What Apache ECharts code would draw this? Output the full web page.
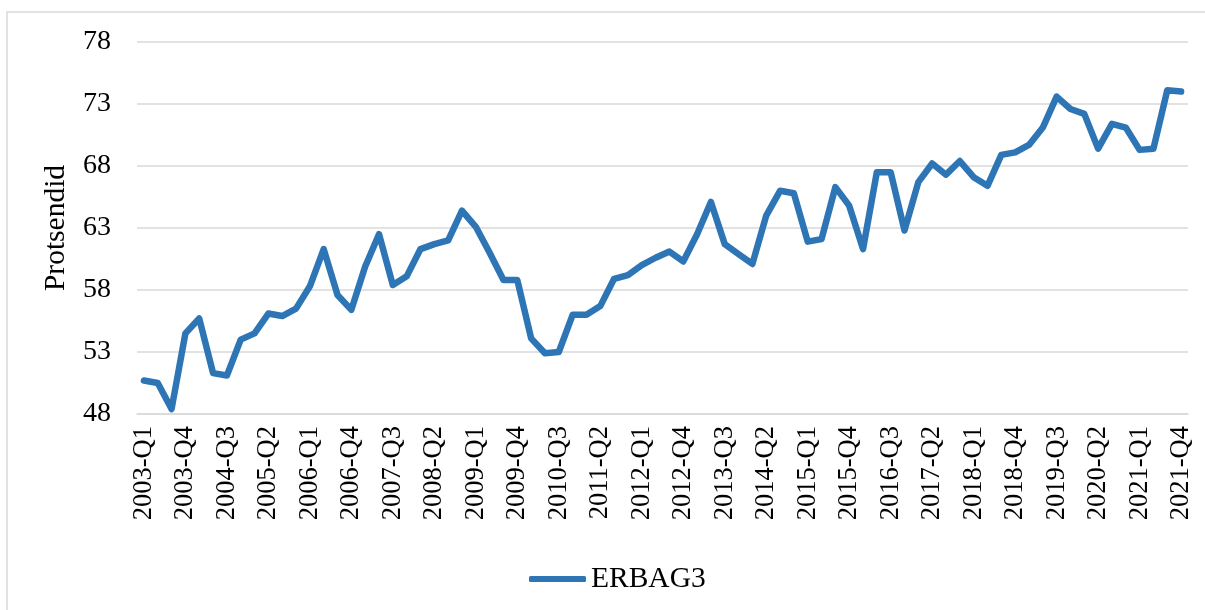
<!DOCTYPE html>
<html>
<head>
<meta charset="utf-8">
<script src="https://cdn.jsdelivr.net/npm/echarts@6/dist/echarts.min.js"></script>
<style>
  html, body { margin: 0; padding: 0; background: #fff; }
  #chart { width: 1205px; height: 610px; }
</style>
</head>
<body>
<div id="chart"></div>
<script>
var years = [];
for (var y = 2003; y <= 2021; y++) years.push(y);
var quarters = [];
years.forEach(function (y) {
  ['Q1', 'Q2', 'Q3', 'Q4'].forEach(function (q) { quarters.push(y + '-' + q); });
});

var seriesName = 'ERBAG3';
var erbag3 = [
  50.7, 50.5, 48.4, 54.5, 55.7, 51.3, 51.1, 54.0,
  54.5, 56.1, 55.9, 56.5, 58.3, 61.3, 57.6, 56.4,
  59.9, 62.5, 58.4, 59.1, 61.3, 61.7, 62.0, 64.4,
  63.1, 61.0, 58.8, 58.8, 54.1, 52.9, 53.0, 56.0,
  56.0, 56.7, 58.9, 59.2, 60.0, 60.6, 61.1, 60.3,
  62.5, 65.1, 61.7, 60.9, 60.1, 64.0, 66.0, 65.8,
  61.9, 62.1, 66.3, 64.8, 61.3, 67.5, 67.5, 62.8,
  66.7, 68.2, 67.3, 68.4, 67.1, 66.4, 68.9, 69.1,
  69.7, 71.1, 73.6, 72.6, 72.2, 69.4, 71.4, 71.1,
  69.3, 69.4, 74.1, 74.0
];
var yTicks = [48, 53, 58, 63, 68, 73, 78];

var chart = echarts.init(document.getElementById('chart'));
var font = '"Liberation Serif", "Times New Roman", serif';

chart.setOption({
  backgroundColor: '#fff',
  textStyle: { fontFamily: font, color: '#000' },
  animation: false,
  graphic: [{
    type: 'rect',
    shape: { x: 7, y: 12, width: 1400, height: 800 },
    style: { fill: 'none', stroke: '#D9D9D9', lineWidth: 1.5 },
    silent: true
  }],
  grid: { left: 137, right: 17, top: 42, bottom: 196 },
  legend: {
    left: 524, top: 559,
    itemWidth: 57, itemHeight: 6, itemGap: 4,
    icon: 'roundRect',
    textStyle: { fontFamily: font, fontSize: 29.5, color: '#000' },
    data: [seriesName]
  },
  xAxis: {
    type: 'category',
    data: quarters,
    boundaryGap: true,
    axisLine: { lineStyle: { color: '#D9D9D9', width: 1.5 } },
    axisTick: { show: false },
    axisLabel: {
      interval: 2, rotate: 90, margin: 12,
      fontFamily: font, fontSize: 26.5, color: '#000'
    }
  },
  yAxis: {
    type: 'value',
    min: yTicks[0], max: yTicks[yTicks.length - 1], interval: 5,
    name: 'Protsendid', nameLocation: 'middle', nameGap: 66, nameRotate: 90,
    nameTextStyle: { fontFamily: font, fontSize: 29.5, color: '#000' },
    axisLine: { show: false },
    axisTick: { show: false },
    axisLabel: { margin: 26, fontFamily: font, fontSize: 28, color: '#000' },
    splitLine: { lineStyle: { color: '#D9D9D9', width: 1.5 } }
  },
  series: [{
    name: seriesName,
    type: 'line',
    data: erbag3,
    symbol: 'none',
    lineStyle: { color: '#2E75B6', width: 6.5, cap: 'round', join: 'round' },
    itemStyle: { color: '#2E75B6' }
  }]
});
</script>
</body>
</html>
